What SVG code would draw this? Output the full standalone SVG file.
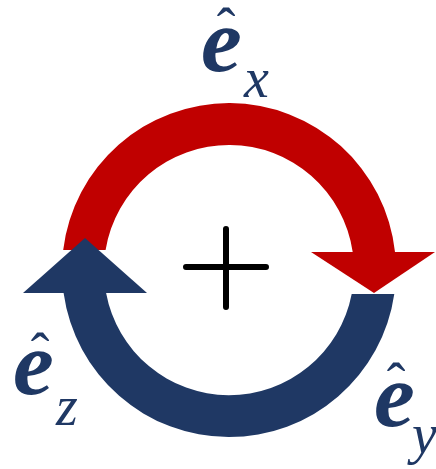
<svg xmlns="http://www.w3.org/2000/svg" width="436" height="469" viewBox="0 0 436 469">
<style>
.red{fill:#c00000}
.blue{fill:#1f3864}
</style>
<rect width="436" height="469" fill="#ffffff"/>
<g id="connectors">
<g id="arrow-x">
<path class="red" d="M63.2 250 A167 167 0 0 1 395 252 L352.7 252 A125 125 0 0 0 105.6 250 Z"/>
<path class="red" d="M311 252 L435 252 L374 293 Z"/>
</g>
<g id="arrow-yz">
<path class="blue" d="M394.3 294 A167 167 0 0 1 63.6 293 L106.1 293 A125 125 0 0 0 351.7 294 Z"/>
<path class="blue" d="M23 293 L147 293 L85 238 Z"/>
</g>
</g>
<g id="plus">
<path d="M226 229 L226 307 M186 267 L266 267" stroke="#000" stroke-width="6" stroke-linecap="round" fill="none"/>
</g>
<g id="label-ex" style="font-family:'Liberation Serif';fill:#1f3864">
<text x="201" y="71" style="font-family:'Liberation Serif';font-size:92px;font-style:italic;font-weight:bold">e</text>
<text x="226" y="47" text-anchor="middle" style="font-family:'Liberation Serif';font-size:56px">ˆ</text>
<text x="244" y="97" style="font-family:'Liberation Serif';font-size:56px;font-style:italic">x</text>
</g>
<g id="label-ez" style="font-family:'Liberation Serif';fill:#1f3864">
<text x="13" y="394" style="font-family:'Liberation Serif';font-size:92px;font-style:italic;font-weight:bold">e</text>
<text x="40" y="372" text-anchor="middle" style="font-family:'Liberation Serif';font-size:56px">ˆ</text>
<text x="56" y="425" style="font-family:'Liberation Serif';font-size:56px;font-style:italic">z</text>
</g>
<g id="label-ey" style="font-family:'Liberation Serif';fill:#1f3864">
<text x="374" y="426" style="font-family:'Liberation Serif';font-size:92px;font-style:italic;font-weight:bold">e</text>
<text x="396" y="402" text-anchor="middle" style="font-family:'Liberation Serif';font-size:56px">ˆ</text>
<text x="412" y="453" style="font-family:'Liberation Serif';font-size:56px;font-style:italic">y</text>
</g>
</svg>
